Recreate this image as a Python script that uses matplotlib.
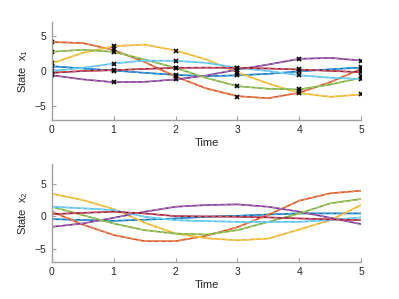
import numpy as np
import matplotlib.pyplot as plt
from matplotlib.colors import to_rgb

plt.rcParams['font.family'] = ['Liberation Sans', 'DejaVu Sans']

# time grid of the read-off curve values, and measurement times
t = [0, 0.5, 1, 1.5, 2, 2.5, 3, 3.5, 4, 4.5, 5]
t_meas = [0, 1, 2, 3, 4, 5]

names = ['blue', 'orange', 'yellow', 'purple', 'green', 'lightblue', 'darkred']
colors = ['#0072BD', '#D95319', '#EDB120', '#7E2F8E', '#77AC30', '#4DBEEE', '#A2142F']

# state x1 (top)
x1 = {
    'blue':      [0.69, 0.36, 0.07, -0.26, -0.55, -0.74, -0.62, -0.4, -0.05, 0.25, 0.5],
    'orange':    [4.15, 4.0, 3.0, 1.3, -0.8, -2.5, -3.6, -3.9, -3.1, -1.6, 0.3],
    'yellow':    [1.1, 2.6, 3.55, 3.79, 2.93, 1.64, -0.2, -1.8, -3.15, -3.7, -3.36],
    'purple':    [-0.6, -1.2, -1.6, -1.55, -1.21, -0.64, 0.21, 0.93, 1.74, 1.88, 1.5],
    'green':     [2.74, 3.05, 2.74, 1.64, 0.45, -1.0, -2.17, -2.55, -2.64, -1.93, -0.98],
    'lightblue': [0.0, 0.45, 1.07, 1.5, 1.45, 1.17, 0.45, 0.0, -0.6, -0.95, -1.15],
    'darkred':   [-0.26, 0.0, 0.12, 0.3, 0.45, 0.48, 0.45, 0.36, 0.21, 0.02, -0.17],
}

# state x2 (bottom)
x2 = {
    'blue':      [-0.46, -0.6, -0.72, -0.55, -0.36, -0.1, 0.05, 0.25, 0.41, 0.42, 0.41],
    'orange':    [0.7, -1.3, -2.9, -3.85, -3.85, -3.0, -1.7, 0.2, 2.37, 3.5, 3.9],
    'yellow':    [3.45, 2.47, 1.1, -1.0, -2.68, -3.4, -3.71, -3.45, -2.06, -0.62, 1.7],
    'purple':    [-1.65, -1.13, -0.26, 0.67, 1.44, 1.7, 1.8, 1.44, 0.67, -0.26, -1.24],
    'green':     [1.44, 0.15, -1.13, -2.16, -2.68, -2.83, -2.16, -0.88, 0.41, 1.96, 2.63],
    'lightblue': [1.44, 1.2, 0.93, -0.1, -0.62, -0.77, -0.88, -0.9, -0.88, -0.6, -0.2],
    'darkred':   [0.3, 0.5, 0.67, 0.41, 0.0, -0.05, -0.1, -0.2, -0.36, -0.5, -0.62],
}

# noisy measurements of x1
meas = {
    'blue':      [0.69, 0.07, -0.55, -0.64, 0.0, 0.55],
    'orange':    [4.1, 3.1, -0.74, -3.7, -2.9, 0.35],
    'yellow':    [1.1, 3.55, 2.93, -0.26, -3.12, -3.36],
    'purple':    [-0.55, -1.6, -1.21, 0.15, 1.74, 1.5],
    'green':     [2.7, 2.74, 0.5, -2.2, -2.64, -0.7],
    'lightblue': [0.07, 1.07, 1.5, 0.5, -0.55, -1.15],
    'darkred':   [-0.36, 0.12, 0.45, 0.45, 0.31, -0.15],
}


def lighter(c, f=0.35):
    r, g, b = to_rgb(c)
    return (r + (1 - r) * f, g + (1 - g) * f, b + (1 - b) * f)


fig = plt.figure(figsize=(3.99, 2.99), dpi=100)
ax1 = fig.add_axes([0.1296, 0.599, 0.7757, 0.327])
ax2 = fig.add_axes([0.1296, 0.1247, 0.7757, 0.3268])

for ax, data, ylim, lab in [(ax1, x1, (-7, 7), r'State  $\mathregular{x_1}$'),
                            (ax2, x2, (-7, 8), r'State  $\mathregular{x_2}$')]:
    for n, c in zip(names, colors):
        ax.plot(t, data[n], color=c, lw=1.2)
        ax.plot(t, data[n], color=lighter(c), lw=1.0, ls=(0, (3, 2)))
    ax.set_xlim(0, 5)
    ax.set_ylim(*ylim)
    ax.set_xticks(range(6))
    ax.set_yticks([-5, 0, 5])
    ax.set_xlabel('Time', fontsize=8, color='#262626', labelpad=2)
    ax.set_ylabel(lab, fontsize=8, color='#262626', labelpad=3)
    for s in ['top', 'right']:
        ax.spines[s].set_visible(False)
    for s in ['left', 'bottom']:
        ax.spines[s].set_color('#a0a0a0')
        ax.spines[s].set_linewidth(1.0)
    ax.tick_params(direction='in', length=3, width=0.8, color='#a0a0a0',
                   labelsize=7.5, labelcolor='#262626', pad=4)

for n in names:
    ax1.plot(t_meas, meas[n], ls='none', marker='x', color='k', ms=3.5, mew=1.2)

fig.savefig('out.png', dpi=100)
